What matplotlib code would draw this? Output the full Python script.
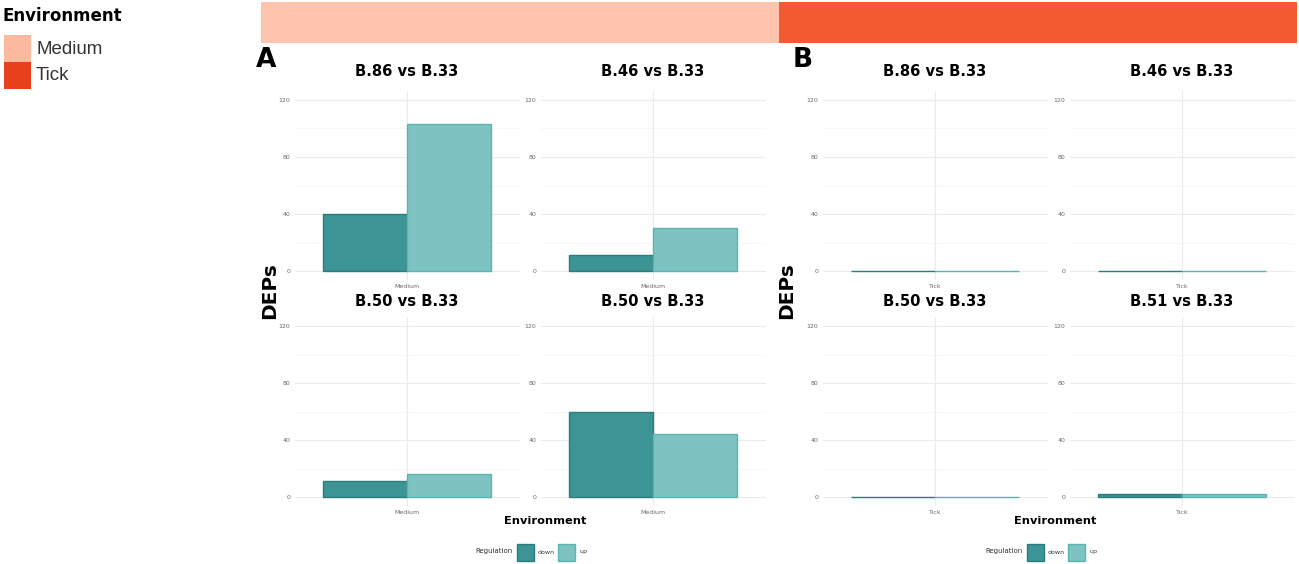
import numpy as np
import matplotlib
matplotlib.use('Agg')
import matplotlib.pyplot as plt
from matplotlib.patches import Rectangle

#------------------------ DATA ------------------------------------------------
titles_A = ['B.86 vs B.33', 'B.46 vs B.33', 'B.50 vs B.33', 'B.50 vs B.33']
down_A = [40, 11, 11, 60]
up_A = [103, 30, 16, 44]

titles_B = ['B.86 vs B.33', 'B.46 vs B.33', 'B.50 vs B.33', 'B.51 vs B.33']
down_B = [0, 0, 0, 2]
up_B = [0, 0, 0, 2]

env_levels = ['Medium', 'Tick']
reg_levels = ['down', 'up']
yticks = [0, 40, 80, 120]

#------------------------ STYLE -----------------------------------------------
env_colors = {'Medium': '#FFC4AE', 'Tick': '#F15B2F'}
env_legend_colors = {'Medium': '#FDB9A0', 'Tick': '#E8401C'}
fill = {'down': '#3C9494', 'up': '#7EC3C1'}
edge = {'down': '#2D7C7C', 'up': '#5AB5B2'}

W, H = 1299, 564
fig = plt.figure(figsize=(W / 100, H / 100), dpi=100)


def px_axes(x0, y0, w, h, **kw):
    # pixel box (top-left origin) -> figure axes
    return fig.add_axes([x0 / W, 1 - (y0 + h) / H, w / W, h / H], **kw)


def panel(x_center, y_zero, title_y, title, down, up, xlabel):
    ax = px_axes(x_center - 112.5, y_zero - 126 * 1.425, 225, 132 * 1.425)
    ax.set_xlim(0.4, 1.6)
    ax.set_ylim(-6, 126)
    for reg, val, off in [('down', down, -0.225), ('up', up, 0.225)]:
        ax.bar(1 + off, val, width=0.45, color=fill[reg], edgecolor=edge[reg],
               linewidth=1.0, zorder=3)
    for y in [20, 60, 100]:
        ax.axhline(y, color='#F6F6F6', lw=0.6, zorder=0)
    for y in yticks:
        ax.axhline(y, color='#EBEBEB', lw=0.8, zorder=0)
    ax.axvline(1, color='#EBEBEB', lw=0.8, zorder=0)
    ax.set_xticks([1])
    ax.set_xticklabels([xlabel])
    ax.set_yticks(yticks)
    ax.tick_params(length=0, labelsize=4.5, labelcolor='#6A6A6A', pad=3)
    for s in ax.spines.values():
        s.set_visible(False)
    ax.patch.set_alpha(0)
    fig.text(x_center / W, 1 - title_y / H, title, ha='center', va='center',
             fontsize=10.6, fontweight='bold', family='DejaVu Sans')
    return ax


# panel centres (px), zero lines (px), title heights (px)
cols_A = [407, 653]
cols_B = [935, 1182]
rows = [271, 497]
title_rows = [72, 301]

for i in range(4):
    r, c = divmod(i, 2)
    panel(cols_A[c], rows[r], title_rows[r], titles_A[i], down_A[i], up_A[i], 'Medium')
    panel(cols_B[c], rows[r], title_rows[r], titles_B[i], down_B[i], up_B[i], 'Tick')

# environment strip
strip = px_axes(261, 2, 1036, 41)
strip.set_xlim(0, 2)
strip.set_ylim(0, 1)
for j, lev in enumerate(env_levels):
    strip.add_patch(Rectangle((j, 0), 1, 1, color=env_colors[lev], lw=0))
strip.axis('off')

# environment legend
fig.text(3 / W, 1 - 16 / H, 'Environment', fontsize=12, fontweight='bold',
         va='center', ha='left', family='DejaVu Sans')
for j, lev in enumerate(env_levels):
    y0 = 35 + j * 27
    fig.patches.append(Rectangle((4 / W, 1 - (y0 + 27) / H), 27 / W, 27 / H,
                                 transform=fig.transFigure,
                                 color=env_legend_colors[lev], lw=0))
    fig.text(36 / W, 1 - (y0 + 14) / H, lev, fontsize=13.5, va='center',
             ha='left', color='#333333', family='Liberation Sans')

# panel letters, y labels, x labels, regulation legends
for letter, xl, ylx, cx in [('A', 266, 270, 545), ('B', 803, 787, 1055)]:
    fig.text(xl / W, 1 - 60 / H, letter, fontsize=19, fontweight='bold',
             ha='center', va='center', family='DejaVu Sans')
    fig.text(ylx / W, 1 - 291 / H, 'DEPs', fontsize=14.5, fontweight='bold',
             rotation=90, ha='center', va='center', family='DejaVu Sans')
    fig.text(cx / W, 1 - 521 / H, 'Environment', fontsize=8.2,
             fontweight='bold', ha='center', va='center', family='DejaVu Sans')
    fig.text((cx - 70) / W, 1 - 551 / H, 'Regulation', fontsize=5,
             ha='left', va='center', color='#333333', family='DejaVu Sans')
    for k, reg in enumerate(reg_levels):
        bx = cx - 28 + k * 41
        fig.patches.append(Rectangle((bx / W, 1 - 561 / H), 17 / W, 17 / H,
                                     transform=fig.transFigure,
                                     facecolor=fill[reg], edgecolor=edge[reg],
                                     lw=1))
        fig.text((bx + 21) / W, 1 - 552 / H, reg, fontsize=4.5, ha='left',
                 va='center', color='#333333', family='DejaVu Sans')

fig.savefig('out.png', dpi=100)
